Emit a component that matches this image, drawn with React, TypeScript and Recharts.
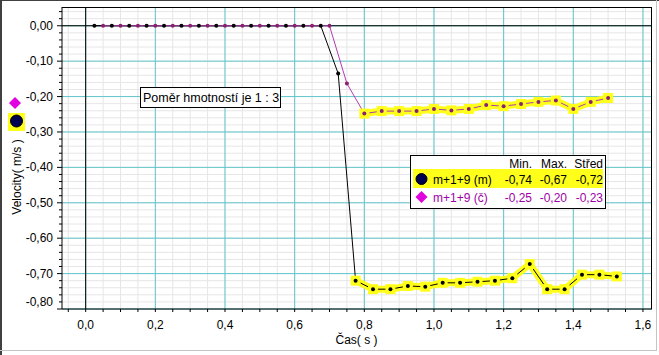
import React from 'react';
import {
  LineChart,
  Line,
  XAxis,
  YAxis,
  CartesianGrid,
  ReferenceLine,
} from 'recharts';

// time samples (s) and velocities (m/s)
const blackTime = [
  0.025, 0.075, 0.125, 0.175, 0.225, 0.275, 0.325, 0.375, 0.425, 0.475, 0.525,
  0.575, 0.625, 0.675, 0.725, 0.775, 0.825, 0.875, 0.925, 0.975, 1.025, 1.075,
  1.125, 1.175, 1.225, 1.275, 1.325, 1.375, 1.425, 1.475, 1.525,
];
const blackVel = [
  0, 0, 0, 0, 0, 0, 0, 0, 0, 0, 0, 0, 0, 0, -0.135, -0.72, -0.744, -0.744,
  -0.735, -0.737, -0.726, -0.726, -0.723, -0.72, -0.713, -0.673, -0.744, -0.744,
  -0.703, -0.703, -0.708,
];
const purpleTime = [
  0.05, 0.1, 0.15, 0.2, 0.25, 0.3, 0.35, 0.4, 0.45, 0.5, 0.55, 0.6, 0.65, 0.7,
  0.75, 0.8, 0.85, 0.9, 0.95, 1.0, 1.05, 1.1, 1.15, 1.2, 1.25, 1.3, 1.35, 1.4,
  1.45, 1.5,
];
const purpleVel = [
  0, 0, 0, 0, 0, 0, 0, 0, 0, 0, 0, 0, 0, 0, -0.163, -0.248, -0.241, -0.241,
  -0.241, -0.235, -0.239, -0.235, -0.224, -0.227, -0.221, -0.215, -0.211,
  -0.235, -0.215, -0.204,
];
// the selected (yellow) part of each series starts here
const blackSelFrom = 0.775;
const purpleSelFrom = 0.8;

const xMajor = [0, 0.2, 0.4, 0.6, 0.8, 1.0, 1.2, 1.4, 1.6];
const yMajor = [0, -0.1, -0.2, -0.3, -0.4, -0.5, -0.6, -0.7, -0.8];

const legendRows = [
  { name: 'm+1+9 (m)', min: '-0,74', max: '-0,67', mid: '-0,72' },
  { name: 'm+1+9 (č)', min: '-0,25', max: '-0,20', mid: '-0,23' },
];

const FONT = '"Liberation Sans", Arial, sans-serif';
const CYAN = '#62c6cc';
const MINOR = '#e6e6e6';
const PURPLE_LINE = '#b03cb0';
const PURPLE_DOT = '#8a2070';
const YELLOW = '#ffff1a';

const r2 = (v: number) => Math.round(v * 1000) / 1000;
// minor ticks: x every 0.05, y every 0.02
const xTicks: number[] = [];
for (let i = -1; i <= 32; i++) xTicks.push(r2(i * 0.05));
const yTicks: number[] = [];
for (let i = -40; i <= 2; i++) yTicks.push(r2(i * 0.02));

const isMajor = (v: number, step: number) =>
  Math.abs(v / step - Math.round(v / step)) < 1e-6;

const blackData = blackTime.map((t, i) => ({ t, v: blackVel[i] }));
const purpleData = purpleTime.map((t, i) => ({ t, v: purpleVel[i] }));
const blackSel = blackData.filter((d) => d.t >= blackSelFrom - 1e-9);
const purpleSel = purpleData.filter((d) => d.t >= purpleSelFrom - 1e-9);

const XTick = (props: any) => {
  const { x, y, payload } = props;
  const v = payload.value as number;
  return (
    <g>
      <line x1={x} x2={x} y1={y} y2={y + 3} stroke="#000" />
      {isMajor(v, 0.2) && v >= 0 && (
        <text x={x} y={y + 20} textAnchor="middle" fontFamily={FONT} fontSize={12} fill="#000">
          {v.toFixed(1).replace('.', ',')}
        </text>
      )}
    </g>
  );
};

const YTick = (props: any) => {
  const { x, y, payload } = props;
  const v = payload.value as number;
  const major = isMajor(v, 0.1) && v <= 0;
  const label = v === 0 ? '0,00' : v.toFixed(2).replace('.', ',');
  return (
    <g>
      <line x1={x - (major ? 5 : 3)} x2={x} y1={y} y2={y} stroke="#000" />
      {major && (
        <text
          x={x - 9}
          y={v <= -0.8 ? y - 3 : y + 4}
          textAnchor="end"
          fontFamily={FONT}
          fontSize={12}
          fill="#000"
        >
          {label}
        </text>
      )}
    </g>
  );
};

const SelDot = (props: any) => {
  const { cx, cy, index } = props;
  return <rect key={index} x={cx - 5} y={cy - 5} width={10} height={10} fill={YELLOW} />;
};

export default function App() {
  return (
    <div style={{ position: 'absolute', left: 0, top: 0, width: 659, height: 355, background: '#fff' }}>
      <LineChart
        width={659}
        height={355}
        margin={{ top: 7, right: 7, bottom: 0, left: 0 }}
      >
        <CartesianGrid stroke={MINOR} verticalValues={xTicks} horizontalValues={yTicks} />
        <CartesianGrid stroke={CYAN} verticalValues={xMajor} horizontalValues={yMajor} />
        <XAxis
          type="number"
          dataKey="t"
          domain={[-0.068, 1.626]}
          ticks={xTicks}
          interval={0}
          allowDataOverflow
          height={46}
          tickSize={0}
          tickMargin={0}
          tickLine={false}
          axisLine={{ stroke: '#000' }}
          tick={(p: any) => <XTick {...p} />}
        />
        <YAxis
          type="number"
          dataKey="v"
          domain={[-0.8, 0.053]}
          ticks={yTicks}
          interval={0}
          allowDataOverflow
          width={62}
          tickSize={0}
          tickMargin={0}
          tickLine={false}
          axisLine={{ stroke: '#000' }}
          tick={(p: any) => <YTick {...p} />}
        />
        <ReferenceLine x={0} stroke="#000" />
        <ReferenceLine y={0} stroke="#000" />
        <Line
          data={blackSel}
          dataKey="v"
          stroke={YELLOW}
          strokeWidth={7}
          dot={(p: any) => <SelDot {...p} />}
          activeDot={false}
          isAnimationActive={false}
        />
        <Line
          data={purpleSel}
          dataKey="v"
          stroke={YELLOW}
          strokeWidth={7}
          dot={(p: any) => <SelDot {...p} />}
          activeDot={false}
          isAnimationActive={false}
        />
        <Line
          data={blackData}
          dataKey="v"
          stroke="#000"
          strokeWidth={1}
          dot={{ r: 2, fill: '#000', stroke: 'none' }}
          activeDot={false}
          isAnimationActive={false}
        />
        <Line
          data={purpleData}
          dataKey="v"
          stroke={PURPLE_LINE}
          strokeWidth={1}
          dot={{ r: 2, fill: PURPLE_DOT, stroke: 'none' }}
          activeDot={false}
          isAnimationActive={false}
        />
      </LineChart>

      <svg
        width={659}
        height={355}
        style={{ position: 'absolute', left: 0, top: 0, pointerEvents: 'none' }}
      >
        {/* window frame */}
        <line x1={1} x2={1} y1={0} y2={355} stroke="#404040" strokeWidth={2} />
        <line x1={0} x2={659} y1={0.5} y2={0.5} stroke="#404040" />
        <line x1={656.5} x2={656.5} y1={0} y2={351} stroke="#c4c4c4" />
        <line x1={0} x2={657} y1={350.5} y2={350.5} stroke="#c4c4c4" />
        {/* plot frame top / right */}
        <line x1={62} x2={652} y1={7.5} y2={7.5} stroke="#000" />
        <line x1={651.5} x2={651.5} y1={7} y2={309} stroke="#000" />

        {/* side markers */}
        <polygon points="15,97 21,103 15,109 9,103" fill="#e000e0" />
        <rect x={8} y={113} width={17} height={18} fill={YELLOW} />
        <circle cx={16.5} cy={121} r={6} fill="#000050" stroke="#000" />

        {/* axis titles */}
        <text
          transform="translate(21,177) rotate(-90)"
          textAnchor="middle"
          fontFamily={FONT}
          fontSize={12}
          fill="#000"
        >
          Velocity( m/s )
        </text>
        <text x={356.5} y={344} textAnchor="middle" fontFamily={FONT} fontSize={12} fill="#000">
          Čas( s )
        </text>

        {/* note */}
        <rect x={140.5} y={87.5} width={140} height={20} fill="#fff" stroke="#000" />
        <text x={143} y={102} fontFamily={FONT} fontSize={12.5} fill="#000">
          Poměr hmotností je 1 : 3
        </text>

        {/* legend */}
        <rect x={410.5} y={155.5} width={195} height={53} fill="#fff" stroke="#000" />
        <rect x={413} y={169} width={190} height={19} fill={YELLOW} />
        <g fontFamily={FONT} fontSize={12} textAnchor="end">
          <text x={532} y={168} fill="#000">Min.</text>
          <text x={567} y={168} fill="#000">Max.</text>
          <text x={603} y={168} fill="#000">Střed</text>
        </g>
        <circle cx={421.5} cy={179} r={5.5} fill="#000050" stroke="#000" />
        <polygon points="421.5,191 427.5,197 421.5,203 415.5,197" fill="#e000e0" />
        {legendRows.map((row, i) => {
          const y = 183.5 + i * 18;
          const color = i === 0 ? '#000' : '#a000a8';
          return (
            <g key={row.name} fontFamily={FONT} fontSize={12} fill={color}>
              <text x={433} y={y}>{row.name}</text>
              <text x={532} y={y} textAnchor="end">{row.min}</text>
              <text x={567} y={y} textAnchor="end">{row.max}</text>
              <text x={603} y={y} textAnchor="end">{row.mid}</text>
            </g>
          );
        })}
      </svg>
    </div>
  );
}
